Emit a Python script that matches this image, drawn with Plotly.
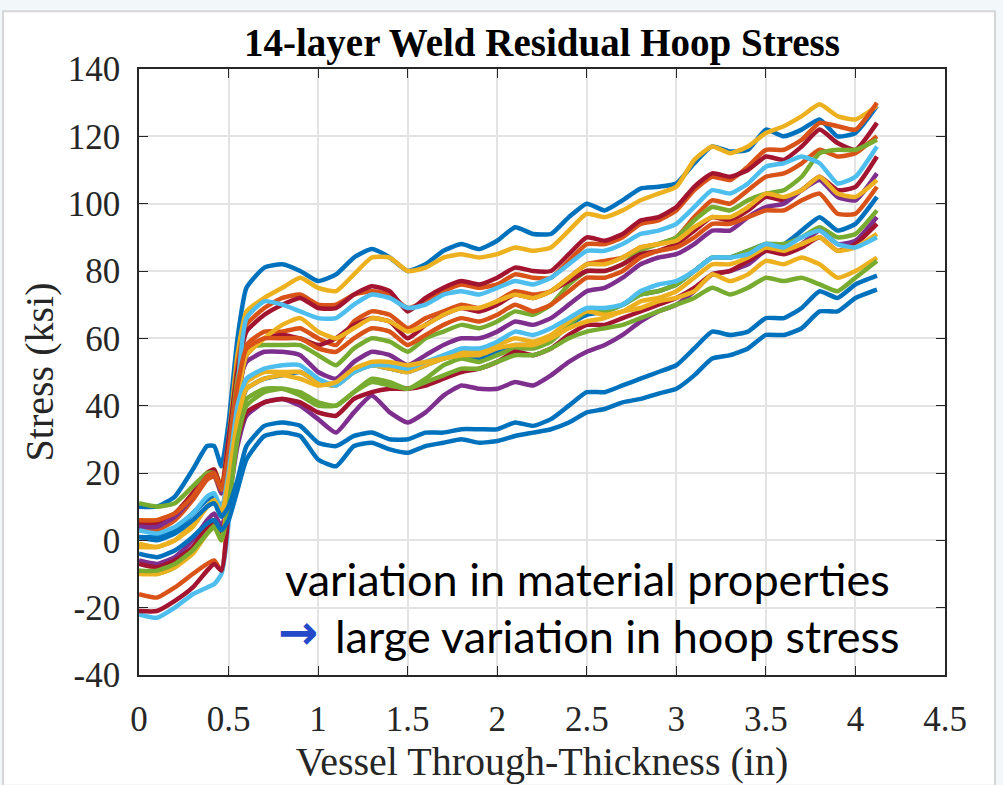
import plotly.graph_objects as go

# ---------------- data ----------------
x_in = [0, 0.1, 0.2, 0.3, 0.38, 0.42, 0.46, 0.5, 0.55, 0.6, 0.7, 0.8, 0.9, 1.0, 1.1,
        1.2, 1.3, 1.4, 1.5, 1.6, 1.7, 1.8, 1.9, 2.0, 2.1, 2.2, 2.3, 2.4, 2.5, 2.6,
        2.7, 2.8, 2.9, 3.0, 3.1, 3.2, 3.3, 3.4, 3.5, 3.6, 3.7, 3.8, 3.9, 4.0, 4.12]

s01 = [10, 10, 13, 21, 28, 28, 22, 35, 60, 75, 81, 82, 80, 77, 79, 84, 86.5, 84, 80, 82, 86, 88, 86.5, 89, 93, 91, 91, 96, 100, 98, 101, 104.5, 105, 106, 112, 117, 115.5, 116, 122, 120, 122, 125, 120, 121, 129]
s02 = [6, 6, 8, 14, 20, 21, 16, 30, 55, 68, 72, 75, 78, 75, 74, 79, 84, 84, 80, 81, 84, 85, 84, 85, 87, 86, 87, 92, 97, 96, 98, 101, 103, 105, 113, 117, 115, 117, 121, 123, 126, 129.5, 126, 125, 129]
s03 = [3, 3, 6, 12, 18, 19, 14, 28, 52, 64, 69, 72, 73, 70, 70, 73, 74, 73, 69, 71, 74, 76, 75, 76, 79, 78, 78, 83, 88, 88, 90, 94, 95, 98, 104, 108, 107, 111, 116, 116, 119, 124, 123, 122, 130]
s04 = [5, 5, 8, 14, 20, 21, 15, 30, 50, 62, 67, 70, 72, 69, 69, 73, 75.5, 74, 68, 72, 75, 77, 76, 78, 81, 80, 80, 85, 90, 89, 91, 95, 96, 99, 105, 109, 108, 110, 114, 113, 117, 122, 118, 116, 124]
s05 = [-16, -17, -14, -10, -7, -6, -9, 10, 40, 58, 62, 62, 63, 60, 58, 65, 68, 67, 63, 66, 68, 70, 69, 71, 74, 73, 74, 78, 82, 83, 84, 87, 88, 90, 96, 101, 100, 104, 108, 109, 112, 116, 114, 115, 120]
s06 = [11, 10, 11, 16, 20, 20, 14, 26, 48, 57, 58, 58, 58, 55, 52, 57, 60, 59, 56, 60, 62, 64, 63, 65, 68, 67, 70, 76, 80, 80, 82, 86, 88, 90, 95, 99, 98, 101, 103, 104, 108, 115, 116, 116, 119]
s07 = [-22, -23, -20, -16, -14, -13, -10, 5, 45, 66, 71, 70, 68, 66, 66, 70, 73, 72, 69, 70, 73, 74, 73, 75, 77, 76, 78, 82, 86, 86, 88, 91, 92, 94, 99, 104, 103, 106, 111, 112, 114, 112, 106, 108, 117]
s08 = [-21, -21, -18, -14, -9, -7, -9, 8, 40, 55, 60, 61, 60, 58, 60, 64, 66, 65, 60, 64, 67, 69, 68, 70, 73, 72, 74, 77, 80, 80, 82, 85, 86, 88, 92, 96, 95, 98, 102, 101, 104, 108, 104, 105, 114]
s09 = [4, 4, 7, 13, 19, 20, 14, 26, 45, 53, 56, 56, 55, 50, 48, 53, 56, 55, 52, 55, 58, 60, 60, 62, 65, 64, 66, 70, 74, 75, 78, 82, 84, 85, 88, 92, 92, 96, 99, 100, 104, 107, 102, 101, 109]
s10 = [-1, -2, 0, 5, 10, 12, 8, 20, 42, 55, 60, 64, 66, 62, 60, 63, 66, 65, 62, 64, 67, 69, 69, 71, 73, 72, 74, 78, 82, 82, 84, 87, 88, 89, 93, 96, 96, 99, 103, 102, 104, 108, 103, 102, 107]
s11 = [6, 6, 8, 13, 19, 20, 15, 26, 46, 57, 60, 60, 60, 57, 56, 60, 63, 62, 58, 61, 64, 66, 65, 67, 70, 68, 70, 74, 78, 78, 80, 84, 86, 87, 90, 94, 94, 96, 98, 98, 101, 103, 97, 97, 105]
s12 = [1, 1, 3, 8, 12, 13, 10, 18, 35, 45, 48, 49, 50, 47, 46, 50, 52, 51, 50, 52, 54, 55, 54, 56, 58, 58, 60, 64, 67, 68, 70, 73, 74, 76, 80, 84, 84, 86, 88, 88, 92, 96, 92, 94, 102]
s13 = [-9, -10, -8, -3, 3, 5, 2, 12, 33, 42, 45, 45, 43, 40, 40, 44, 48, 47, 45, 48, 52, 54, 53, 55, 57, 57, 59, 64, 68, 68, 70, 73, 74, 76, 80, 84, 84, 86, 88, 88, 90, 93, 90, 91, 98]
s14 = [-6, -7, -5, 0, 6, 8, 4, 12, 28, 37, 41, 42, 40, 36, 32, 38, 43, 38, 35, 38, 43, 46, 45, 45, 47, 46, 49, 53, 56, 58, 61, 65, 68, 70, 74, 79, 80, 82, 86, 86, 88, 92, 88, 89, 96]
s15 = [-7, -8, -6, -2, 4, 6, 2, 12, 30, 38, 41, 42, 41, 38, 37, 42, 44, 45, 45, 46, 48, 50, 51, 53, 56, 55, 57, 61, 64, 64, 66, 68, 70, 72, 75, 79, 80, 83, 86, 85, 87, 90, 86, 88, 94]
s16 = [-10, -10, -8, -4, 2, 4, 0, 14, 38, 47, 50, 50, 50, 47, 46, 50, 52, 51, 50, 52, 54, 56, 56, 58, 60, 59, 61, 65, 68, 67, 68, 71, 72, 74, 78, 82, 82, 84, 87, 86, 88, 90, 86, 87, 91]
s17 = [3, 2, 4, 8, 13, 14, 9, 20, 40, 48, 51, 52, 52, 48, 46, 50, 52, 52, 51, 53, 55, 57, 57, 59, 62, 61, 63, 66, 69, 69, 70, 74, 76, 77, 80, 84, 84, 85, 88, 87, 90, 92, 88, 87, 90]
s18 = [-2, -2, 0, 4, 10, 12, 8, 18, 36, 45, 48, 49, 48, 46, 47, 51, 53, 53, 52, 53, 54, 55, 55, 57, 58, 58, 60, 63, 65, 66, 68, 69, 71, 72, 74, 79, 77, 79, 83, 82, 84, 82, 78, 80, 84]
s19 = [-9, -9, -7, -3, 2, 4, 0, 10, 30, 40, 44, 45, 44, 41, 40, 44, 47, 46, 45, 47, 49, 51, 51, 53, 55, 55, 57, 60, 62, 63, 64, 66, 68, 70, 72, 75, 73, 75, 78, 77, 78, 76, 74, 78, 83]
s20 = [1, 0, 2, 6, 10, 11, 7, 10, 18, 28, 34, 35, 34, 29, 28, 31, 32, 30, 30, 32, 32, 33, 33, 33, 35, 34, 36, 40, 44, 44, 46, 48, 50, 52, 57, 62, 61, 62, 66, 66, 69, 74, 72, 76, 78.6]
s21 = [-4, -5, -3, 1, 5, 6, 3, 6, 15, 24, 31, 32, 31, 24, 22, 28, 29, 27, 26, 28, 29, 30, 29, 29.5, 31, 32, 33, 35, 38, 39, 41, 42, 43.6, 45, 49, 54, 55, 57, 61, 61, 63, 68, 68, 72, 74.5]

series = [s01, s02, s03, s04, s05, s06, s07, s08, s09, s10, s11,
          s12, s13, s14, s15, s16, s17, s18, s19, s20, s21]
series_colors = ["#0072BD", "#EDB120", "#D95319", "#A2142F", "#D95319", "#77AC30", "#4DBEEE",
                 "#A2142F", "#7E2F8E", "#EDB120", "#D95319", "#0072BD", "#77AC30", "#7E2F8E",
                 "#A2142F", "#EDB120", "#4DBEEE", "#EDB120", "#77AC30", "#0072BD", "#0072BD"]

x_ticks = [0, 0.5, 1, 1.5, 2, 2.5, 3, 3.5, 4, 4.5]
x_tick_labels = ["0", "0.5", "1", "1.5", "2", "2.5", "3", "3.5", "4", "4.5"]
y_ticks = [-40, -20, 0, 20, 40, 60, 80, 100, 120, 140]
y_tick_labels = ["-40", "-20", "0", "20", "40", "60", "80", "100", "120", "140"]

title_text = "14-layer Weld Residual Hoop Stress"
x_title = "Vessel Through-Thickness (in)"
y_title = "Stress (ksi)"
note_line1 = "variation in material properties"
note_arrow = "\u2192"
note_line2 = "large variation in hoop stress"

# ---------------- figure ----------------
fig = go.Figure()
for ys, col in zip(series, series_colors):
    fig.add_trace(go.Scatter(x=x_in, y=ys, mode="lines",
                             line=dict(color=col, width=4.5, shape="spline", smoothing=0.5),
                             showlegend=False, hoverinfo="skip"))

serif = "Liberation Serif"
axis_col = "#262626"

fig.update_layout(
    width=1003, height=785,
    margin=dict(l=139, r=58, t=69, b=98),
    paper_bgcolor="#f2f7fa",
    plot_bgcolor="white",
    font=dict(family=serif, color=axis_col, size=35),
    title=dict(text="<b>" + title_text + "</b>", x=0.5, xref="paper", xanchor="center",
               y=1 - 42 / 785, yanchor="middle",
               font=dict(family=serif, size=39, color="black")),
    shapes=[dict(type="rect", xref="paper", yref="paper", layer="below",
                 x0=(3 - 139) / 806, x1=(995 - 139) / 806,
                 y0=(687 - 800) / 618, y1=(687 - 10) / 618,
                 fillcolor="white", line=dict(color="#d6d6d6", width=2))],
    annotations=[
        dict(text=note_line1, xref="paper", yref="paper", x=(283 - 139) / 806, y=(687 - 589) / 618,
             xanchor="left", yanchor="middle", showarrow=False,
             font=dict(family="Lato, sans-serif", size=45, color="black")),
        dict(text=note_arrow, xref="paper", yref="paper", x=(276 - 139) / 806, y=(687 - 643) / 618,
             xanchor="left", yanchor="middle", showarrow=False,
             font=dict(family="DejaVu Sans", size=48, color="#2348C8", weight="bold")),
        dict(text=note_line2, xref="paper", yref="paper", x=(333 - 139) / 806, y=(687 - 647) / 618,
             xanchor="left", yanchor="middle", showarrow=False,
             font=dict(family="Lato, sans-serif", size=45, color="black")),
    ],
)

fig.update_xaxes(range=[0, 4.5], tickvals=x_ticks, ticktext=x_tick_labels,
                 ticks="inside", ticklen=9, tickwidth=1, tickcolor=axis_col,
                 showline=True, linecolor=axis_col, linewidth=1.5, mirror="ticks",
                 showgrid=True, gridcolor="#e3e3e3", gridwidth=1.5, zeroline=False,
                 ticklabelstandoff=12,
                 title=dict(text=x_title, standoff=6, font=dict(family=serif, size=40, color=axis_col)))
fig.update_yaxes(range=[-40, 140], tickvals=y_ticks, ticktext=y_tick_labels,
                 ticks="inside", ticklen=9, tickwidth=1, tickcolor=axis_col,
                 showline=True, linecolor=axis_col, linewidth=1.5, mirror="ticks",
                 showgrid=True, gridcolor="#e3e3e3", gridwidth=1.5, zeroline=False,
                 ticklabelstandoff=10,
                 title=dict(text=y_title, standoff=2, font=dict(family=serif, size=40, color=axis_col)))

fig.write_html("out.html")
